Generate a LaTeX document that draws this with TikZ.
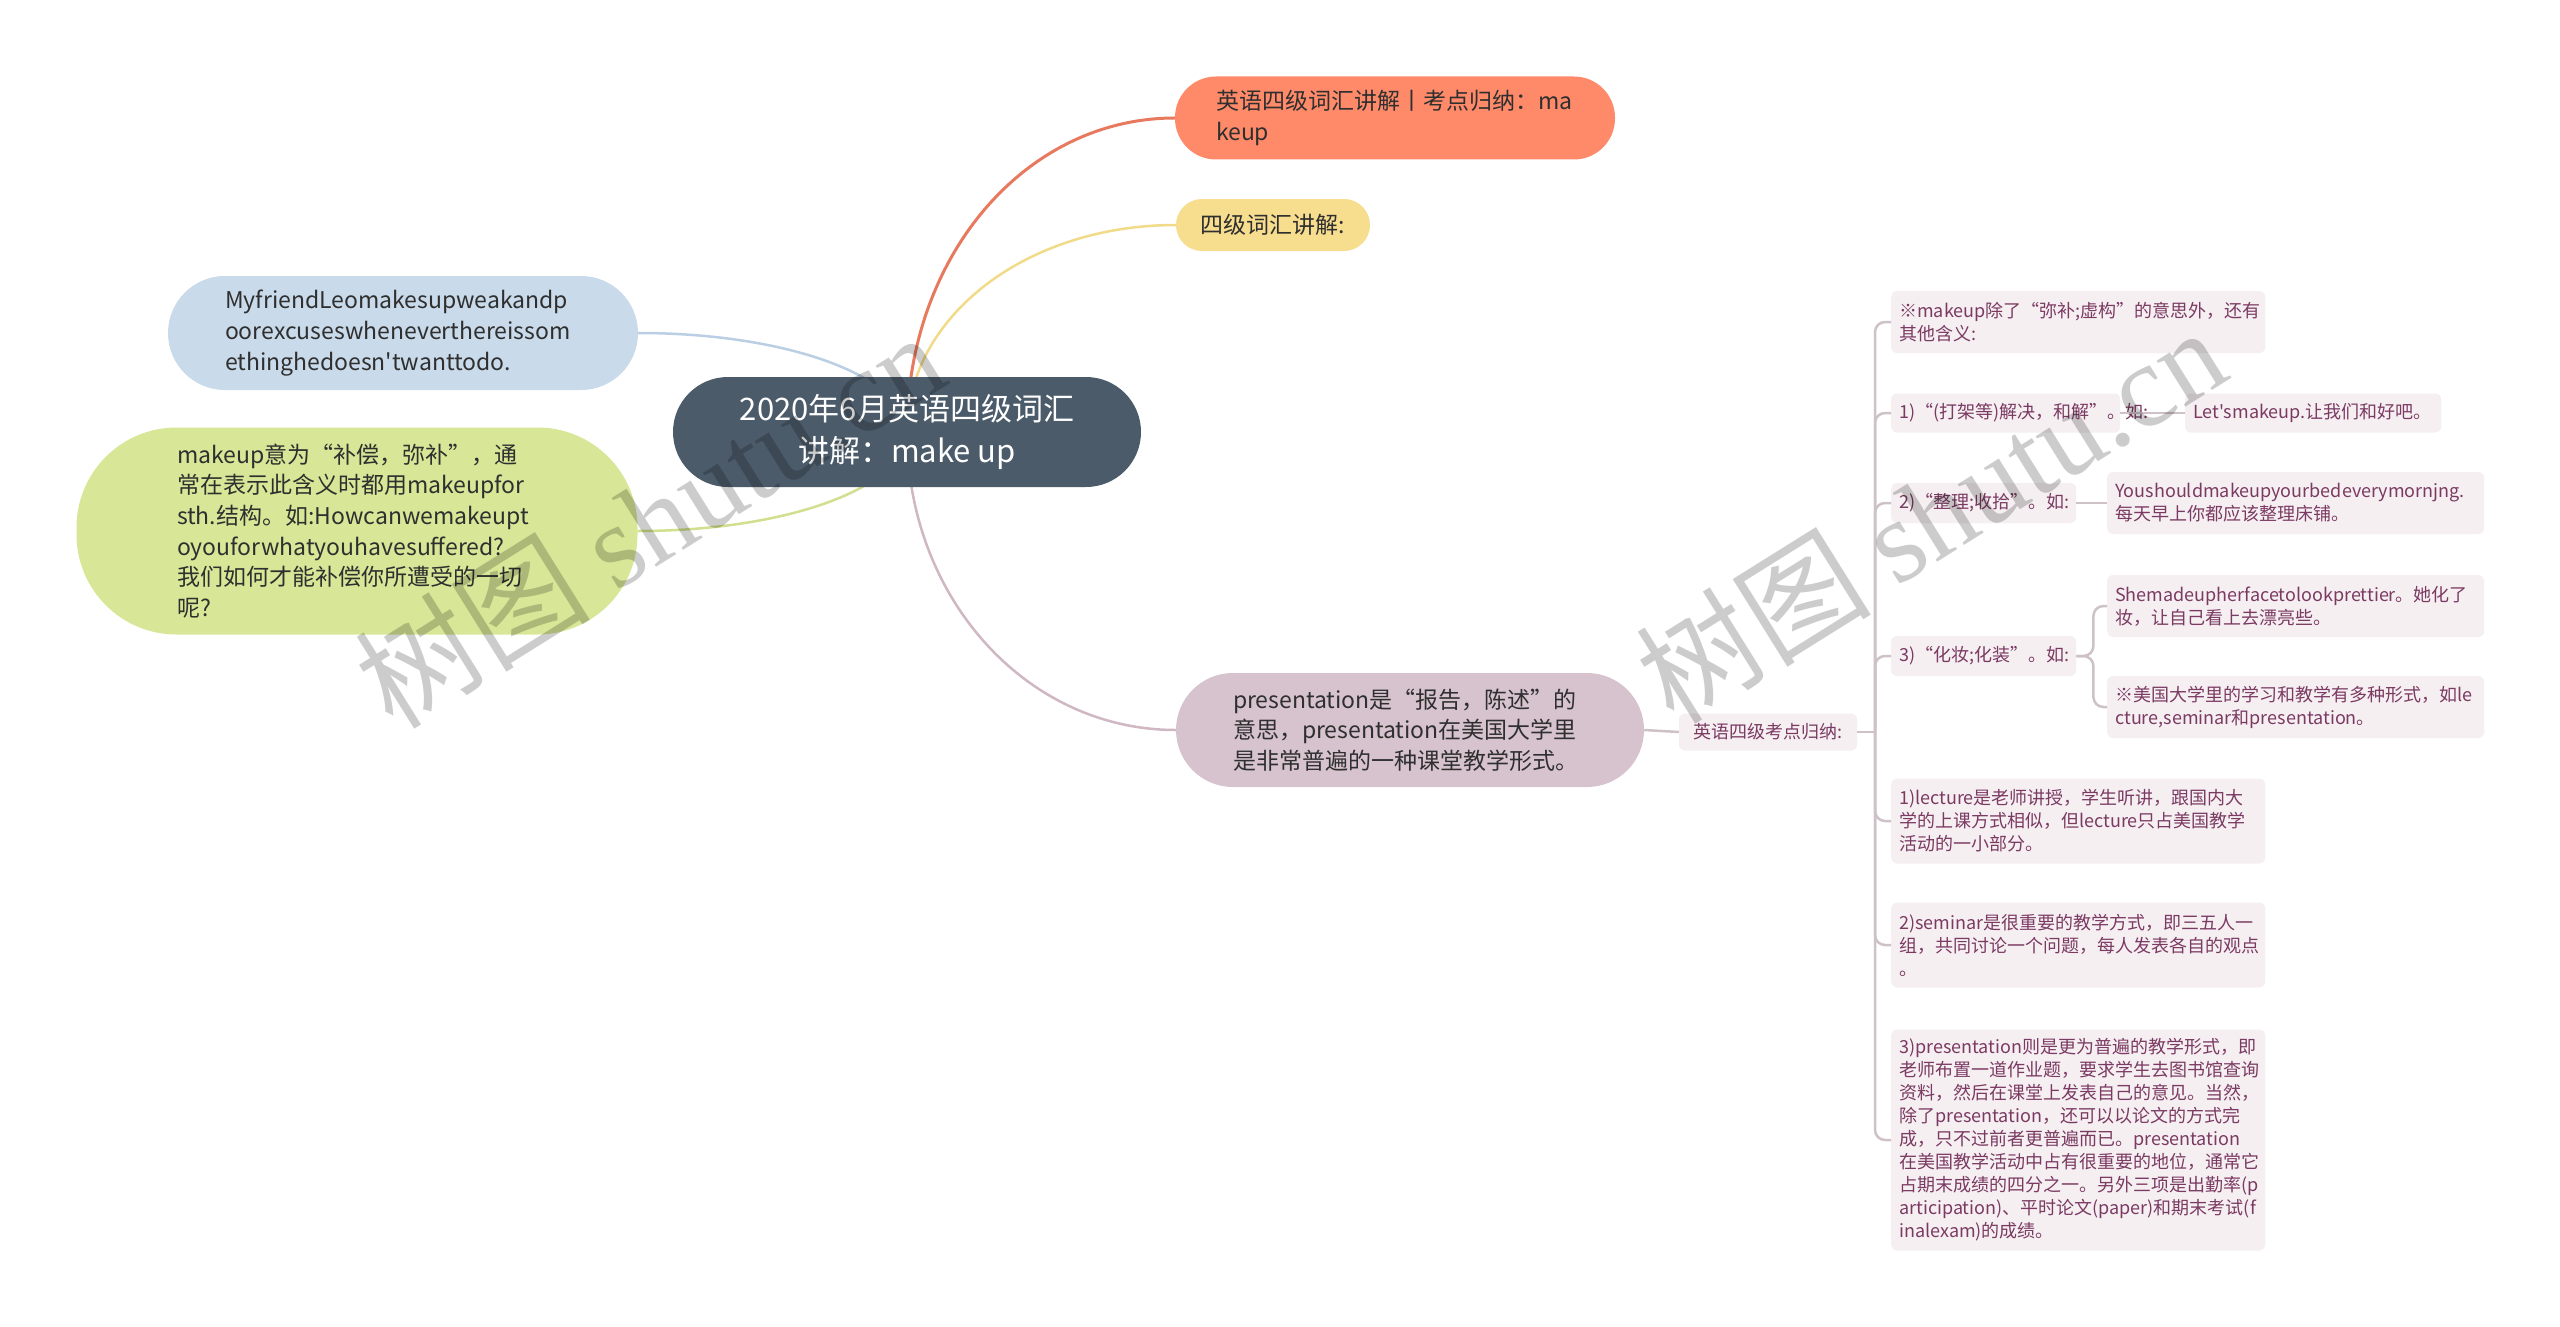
\documentclass[tikz,border=0pt]{standalone}
\usepackage{fontspec}
\setmainfont{Noto Sans CJK SC}[Ligatures=TeXOff]
\newfontfamily\wmlatin{Liberation Serif}
\usepackage{xcolor}
\usetikzlibrary{positioning,calc,backgrounds}

\definecolor{rootbg}{HTML}{4B5B6A}
\definecolor{orangebg}{HTML}{FF8A69}
\definecolor{orangeln}{HTML}{E77A5E}
\definecolor{yellowbg}{HTML}{F7DD8E}
\definecolor{yellowln}{HTML}{F1DB88}
\definecolor{bluebg}{HTML}{C9DAEA}
\definecolor{blueln}{HTML}{BACFE3}
\definecolor{greenbg}{HTML}{D8E797}
\definecolor{greenln}{HTML}{D0E08E}
\definecolor{presbg}{HTML}{D7C3CD}
\definecolor{presln}{HTML}{CFB8C3}
\definecolor{smallbg}{HTML}{F5EFF2}
\definecolor{smalltxt}{HTML}{7B3A62}
\definecolor{bracketln}{HTML}{CFC1C8}
\definecolor{darktxt}{HTML}{2F2F2F}

\begin{document}
\begin{tikzpicture}[x=1pt, y=-1pt,
  rootnode/.style={fill=rootbg, text=white, rounded corners=55pt, minimum width=468pt,
    minimum height=110pt, align=center, font=\fontsize{31pt}{42pt}\selectfont},
  topic/.style={text=darktxt, align=left, font=\fontsize{23pt}{30.7pt}\selectfont},
  small/.style={fill=smallbg, text=smalltxt, rounded corners=6pt, inner xsep=8pt,
    inner ysep=8pt, align=left, anchor=west, font=\fontsize{18pt}{23pt}\selectfont},
  edge/.style={line width=2.5pt},
  bline/.style={draw=bracketln, line width=2.5pt},
  watermark/.style={text=black, text opacity=0.2, rotate=32,
    font=\fontsize{118pt}{118pt}\selectfont}]
  \useasboundingbox (0,0) rectangle (2560,1327);

  % Root
  \node[rootnode] (root) at (907,432) {2020年6月英语四级词汇\\讲解：make up};

  % Main topics
  \node[topic, fill=orangebg, rounded corners=41pt, minimum width=440pt, minimum height=83pt,
    text width=358pt] (n1) at (1395,118) {英语四级词汇讲解丨考点归纳：ma\\keup};
  \node[topic, fill=yellowbg, rounded corners=26pt, minimum width=194pt, minimum height=52pt]
    (n2) at (1273,225) {四级词汇讲解:};
  \node[topic, fill=bluebg, rounded corners=57pt, minimum width=470pt, minimum height=114pt,
    text width=356pt] (n3) at (403,333)
    {MyfriendLeomakesupweakandp\\oorexcuseswheneverthereissom\\ethinghedoesn'twanttodo.};
  \node[topic, fill=greenbg, rounded corners=100pt, minimum width=561pt, minimum height=207pt,
    text width=360pt] (n4) at (357,531)
    {makeup意为“补偿，弥补”，通\\常在表示此含义时都用makeupfor\\sth.结构。如:Howcanwemakeupt\\oyouforwhatyouhavesuffered?\\我们如何才能补偿你所遭受的一切\\呢?};
  \node[topic, fill=presbg, rounded corners=57pt, minimum width=468pt, minimum height=114pt,
    text width=354pt] (n5) at (1410,730)
    {presentation是“报告，陈述”的\\意思，presentation在美国大学里\\是非常普遍的一种课堂教学形式。};

  % Summary label
  \node[small, anchor=center, minimum width=178pt, minimum height=37pt] (lab) at (1768,732)
    {英语四级考点归纳:};

  % Details
  \node[small, text width=358pt, minimum height=62pt] (s0) at (1891,322)
    {※makeup除了“弥补;虚构”的意思外，还有\\其他含义:};
  \node[small, text width=213pt, minimum height=39pt] (s1) at (1891,413)
    {1)“(打架等)解决，和解”。如:};
  \node[small, text width=240pt, minimum height=39pt] (s1a) at (2185,413)
    {Let'smakeup.让我们和好吧。};
  \node[small, text width=169pt, minimum height=40pt] (s2) at (1891,503)
    {2)“整理;收拾”。如:};
  \node[small, text width=361pt, minimum height=62pt] (s2a) at (2107,503)
    {Youshouldmakeupyourbedeverymornjng.\\每天早上你都应该整理床铺。};
  \node[small, text width=169pt, minimum height=40pt] (s3) at (1891,656)
    {3)“化妆;化装”。如:};
  \node[small, text width=361pt, minimum height=62pt] (s3a) at (2107,606)
    {Shemadeupherfacetolookprettier。她化了\\妆，让自己看上去漂亮些。};
  \node[small, text width=361pt, minimum height=62pt] (s3b) at (2107,707)
    {※美国大学里的学习和教学有多种形式，如le\\cture,seminar和presentation。};
  \node[small, text width=358pt, minimum height=85pt] (s4) at (1891,821)
    {1)lecture是老师讲授，学生听讲，跟国内大\\学的上课方式相似，但lecture只占美国教学\\活动的一小部分。};
  \node[small, text width=358pt, minimum height=85pt] (s5) at (1891,945)
    {2)seminar是很重要的教学方式，即三五人一\\组，共同讨论一个问题，每人发表各自的观点\\。};
  \node[small, text width=358pt, minimum height=221pt] (s6) at (1891,1140)
    {3)presentation则是更为普遍的教学形式，即\\老师布置一道作业题，要求学生去图书馆查询\\资料，然后在课堂上发表自己的意见。当然，\\除了presentation，还可以以论文的方式完\\成，只不过前者更普遍而已。presentation\\在美国教学活动中占有很重要的地位，通常它\\占期末成绩的四分之一。另外三项是出勤率(p\\articipation)、平时论文(paper)和期末考试(f\\inalexam)的成绩。};

  \coordinate (bk) at (1875,732);

  \begin{pgfonlayer}{background}
    \fill[white] (0,0) rectangle (2560,1327);
    % Branches from the root
    \draw[edge, draw=orangeln, line width=3pt] (root.center) .. controls +(0,-175) and +(-150,0) .. (n1.west);
    \draw[edge, draw=yellowln] (root.center) .. controls +(0,-115) and +(-150,0) .. (n2.west);
    \draw[edge, draw=blueln] (n3.east) .. controls +(150,0) and +(0,-55) .. (root.center);
    \draw[edge, draw=greenln] (n4.east) .. controls +(150,0) and +(0,55) .. (root.center);
    \draw[edge, draw=presln] (root.center) .. controls +(0,165) and +(-150,0) .. (n5.west);
  \end{pgfonlayer}

  % Bracket lines
  \draw[bline] (n5.east) -- (lab.west);
  \draw[bline] (lab.east) -- (bk);
  \foreach \c in {s0,s1,s2,s3,s4,s5,s6}
    \draw[bline, rounded corners=10pt] (bk) |- (\c.west);
  \draw[bline] (s1.east) -- (s1a.west);
  \draw[bline] (s2.east) -- (s2a.west);
  \draw[bline, rounded corners=10pt] (s3.east) -- ++(17,0) |- (s3a.west);
  \draw[bline, rounded corners=10pt] (s3.east) -- ++(17,0) |- (s3b.west);

  % Watermarks
  \node[watermark] (wm1) at (649,519) {树图 {\wmlatin shutu.cn}};
  \node[watermark] (wm2) at (1930,514) {树图 {\wmlatin shutu.cn}};
\end{tikzpicture}
\end{document}
